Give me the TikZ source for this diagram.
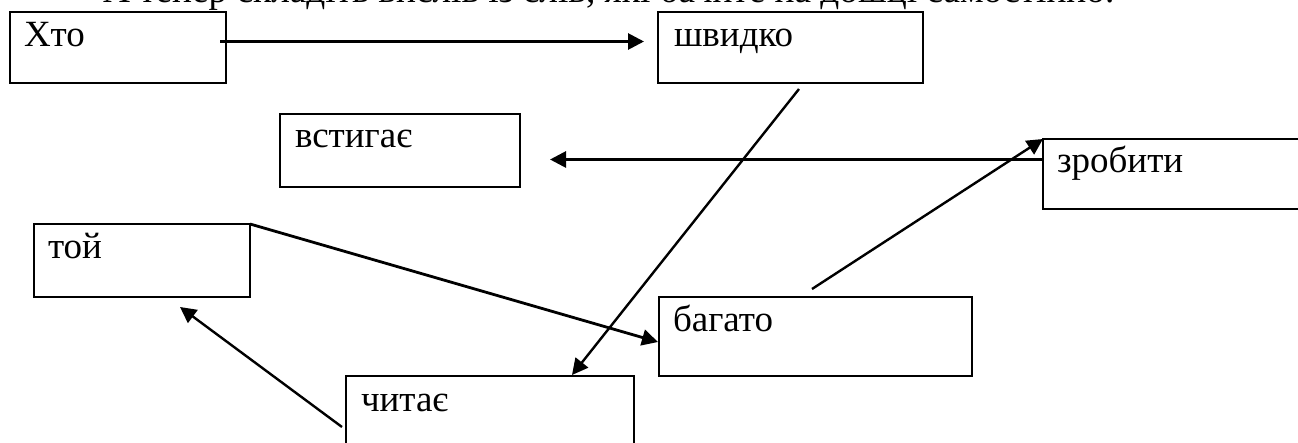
\documentclass[tikz,border=0pt]{standalone}
\usepackage{fontspec}
\setmainfont{Liberation Serif}
\usetikzlibrary{arrows.meta}
\tikzset{
  x=1pt,y=-1pt,
  box/.style={draw=black,line width=2.4pt,fill=none,rectangle,inner sep=0pt,outer sep=0pt,anchor=north west},
  word/.style={anchor=base west,inner sep=0pt,outer sep=0pt,font=\fontsize{37}{40}\selectfont,text=black},
  link/.style={draw=black,line width=2.8pt,-{Triangle[length=16pt,width=16pt]}},
  linkthin/.style={link,line width=2.4pt}
}
\begin{document}
\begin{tikzpicture}
\useasboundingbox (0,0) rectangle (1298,443);
\begin{scope}
\clip (0,0) rectangle (1298,443);
\node[word,font=\fontsize{37.3}{40}\selectfont] (top) at (103,3) {А тепер складіть вислів із слів, які бачите на дошці самостійно.};
\node[box,minimum width=216pt,minimum height=71pt] (xto) at (10,12) {};
\node[box,minimum width=265pt,minimum height=71pt] (shv) at (658,12) {};
\node[box,minimum width=240pt,minimum height=73pt] (vst) at (280,114) {};
\node[box,minimum width=280pt,minimum height=70pt] (zro) at (1043,139) {};
\node[box,minimum width=216pt,minimum height=73pt] (toy) at (34,224) {};
\node[box,minimum width=313pt,minimum height=79pt] (bag) at (659,297) {};
\node[box,minimum width=288pt,minimum height=90pt] (chy) at (346,376) {};
\node[word] (txto) at (24,47) {Хто};
\node[word] (tshv) at (674,47) {швидко};
\node[word] (tvst) at (295,148) {встигає};
\node[word] (tzro) at (1057,172.5) {зробити};
\node[word] (ttoy) at (48,259) {той};
\node[word] (tbag) at (673,332) {багато};
\node[word] (tchy) at (361,411) {читає};
\coordinate (a1) at (220,41.5);
\coordinate (a2) at (644,41.5);
\coordinate (b1) at (1043,159.5);
\coordinate (b2) at (550,159.5);
\coordinate (c1) at (799,89);
\coordinate (c2) at (572,375);
\coordinate (d1) at (812,289);
\coordinate (d2) at (zro.north west);
\coordinate (e1) at (toy.north east);
\coordinate (e2) at (658,342);
\coordinate (f1) at (342,427);
\coordinate (f2) at (180,307);
\draw[link] (a1) -- (a2);
\draw[link] (b1) -- (b2);
\draw[linkthin] (c1) -- (c2);
\draw[linkthin] (d1) -- (d2);
\draw[link] (e1) -- (e2);
\draw[linkthin] (f1) -- (f2);
\end{scope}
\end{tikzpicture}
\end{document}
